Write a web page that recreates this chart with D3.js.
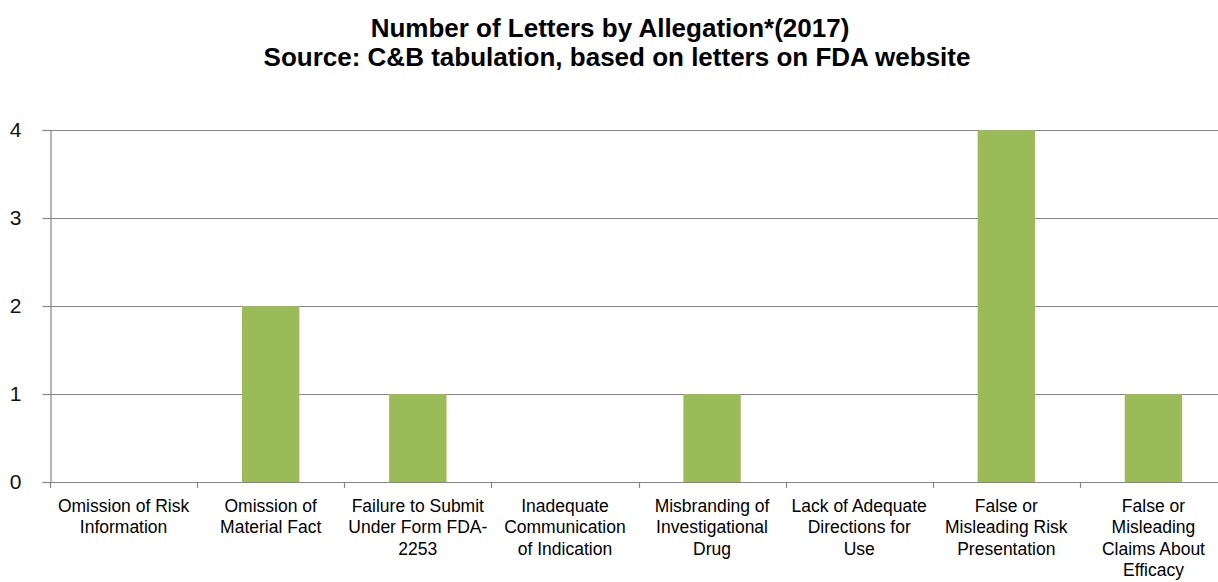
<!DOCTYPE html>
<html>
<head>
<meta charset="utf-8">
<script src="https://cdn.jsdelivr.net/npm/d3@7"></script>
<style>
  body { margin: 0; background: #fff; }
  svg { display: block; }
</style>
</head>
<body>
<div id="plot"></div>
<script>
// Chart data
var categories = ["Omission of Risk Information", "Omission of Material Fact",
     "Failure to Submit Under Form FDA-2253", "Inadequate Communication of Indication",
     "Misbranding of Investigational Drug", "Lack of Adequate Directions for Use",
     "False or Misleading Risk Presentation", "False or Misleading Claims About Efficacy"];
var labelLines = [
     ["Omission of Risk", "Information"],
     ["Omission of", "Material Fact"],
     ["Failure to Submit", "Under Form FDA-", "2253"],
     ["Inadequate", "Communication", "of Indication"],
     ["Misbranding of", "Investigational", "Drug"],
     ["Lack of Adequate", "Directions for", "Use"],
     ["False or", "Misleading Risk", "Presentation"],
     ["False or", "Misleading", "Claims About", "Efficacy"]];
var values = [0, 2, 1, 0, 1, 0, 4, 1];
var yTicks = [0, 1, 2, 3, 4];
var titleLines = ["Number of Letters by Allegation*(2017)",
     "Source: C&B tabulation, based on letters on FDA website"];

var width = 1218, height = 582;
const margin = {top: 130, left: 50};
var plotRight = 1227;
var plotBottom = 482;

var svg = d3.select("#plot")
     .append("svg")
     .attr("width", width)
     .attr("height", height);

// Title
svg.append("g")
     .selectAll("text")
     .data(titleLines)
     .enter()
     .append("text")
     .attr("x", function(d, i) { return i === 0 ? 610 : 617; })
     .attr("y", function(d, i) { return 37 + i * 29; })
     .attr("text-anchor", "middle")
     .style("font-family", "'Liberation Sans', Arial, sans-serif")
     .style("font-weight", "bold")
     .style("font-size", "26px")
     .attr("fill", "#000")
     .text(function(d) { return d; });

// Scales
var x = d3.scaleBand()
     .domain(categories)
     .range([margin.left, plotRight])
     .paddingInner(0.61)
     .paddingOuter(0.305);

var xOuter = d3.scaleBand()
     .domain(categories)
     .range([margin.left, plotRight]);

var y = d3.scaleLinear()
     .domain([0, 4])
     .range([plotBottom, margin.top]);

// Gridlines
svg.append("g")
     .selectAll("line")
     .data(yTicks.filter(function(d) { return d > 0; }))
     .enter()
     .append("line")
     .attr("x1", margin.left)
     .attr("x2", plotRight)
     .attr("y1", function(d) { return Math.round(y(d)) + 0.5; })
     .attr("y2", function(d) { return Math.round(y(d)) + 0.5; })
     .attr("stroke", "#868686")
     .attr("stroke-width", 1.2);

// Bars
svg.append("g")
     .selectAll("rect")
     .data(values)
     .enter()
     .append("rect")
     .attr("x", function(d, i) { return x(categories[i]); })
     .attr("y", function(d) { return y(d); })
     .attr("width", x.bandwidth())
     .attr("height", function(d) { return y(0) - y(d); })
     .attr("fill", "#9BBB59");

// Y axis
var yAxis = svg.append("g")
     .attr("transform", "translate(" + (margin.left + 0.5) + ",0)")
     .call(d3.axisLeft(y).tickValues(yTicks).tickSize(8).tickPadding(21).tickFormat(d3.format("d")));
yAxis.select(".domain").attr("stroke", "#868686").attr("stroke-width", 1.2);
yAxis.selectAll(".tick line").attr("stroke", "#868686").attr("stroke-width", 1.2);
yAxis.selectAll("text")
     .style("font-family", "'Liberation Sans', Arial, sans-serif")
     .style("font-size", "21px")
     .attr("fill", "#111");

// X axis baseline and ticks at category boundaries
svg.append("line")
     .attr("x1", margin.left)
     .attr("x2", plotRight)
     .attr("y1", plotBottom + 0.5)
     .attr("y2", plotBottom + 0.5)
     .attr("stroke", "#868686")
     .attr("stroke-width", 1.2);

svg.append("g")
     .selectAll("line")
     .data(categories)
     .enter()
     .append("line")
     .attr("x1", function(d) { return Math.round(xOuter(d)) + 0.5; })
     .attr("x2", function(d) { return Math.round(xOuter(d)) + 0.5; })
     .attr("y1", plotBottom)
     .attr("y2", plotBottom + 6)
     .attr("stroke", "#868686")
     .attr("stroke-width", 1.2);

// X labels
var labels = svg.append("g")
     .selectAll("text")
     .data(categories)
     .enter()
     .append("text")
     .attr("x", function(d) { return xOuter(d) + xOuter.bandwidth() / 2; })
     .attr("y", 512)
     .attr("text-anchor", "middle")
     .style("font-family", "'Liberation Sans', Arial, sans-serif")
     .style("font-size", "17.5px")
     .attr("fill", "#000");

labels.each(function(d, i) {
     var t = d3.select(this);
     labelLines[i].forEach(function(line, j) {
          t.append("tspan")
               .attr("x", xOuter(d) + xOuter.bandwidth() / 2)
               .attr("dy", j === 0 ? 0 : 21.4)
               .text(line);
     });
});
</script>
</body>
</html>
